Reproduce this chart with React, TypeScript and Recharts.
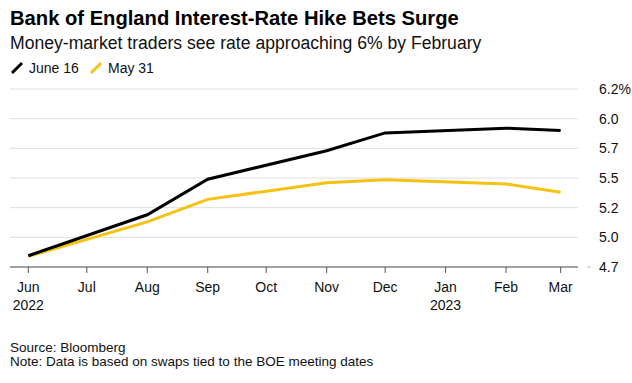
import React from "react";
import { LineChart, Line, XAxis, YAxis, CartesianGrid } from "recharts";

// Days since 1 Jun 2022 for BOE meeting months
const pointDays = [0, 61, 92, 153, 183, 245, 273];
const june16 = [4.845, 5.19, 5.49, 5.73, 5.88, 5.92, 5.9];
const may31 = [4.84, 5.13, 5.32, 5.46, 5.485, 5.45, 5.38];

const monthTickDays = [0, 30, 61, 92, 122, 153, 183, 214, 245, 273];
const monthLabels = ["Jun", "Jul", "Aug", "Sep", "Oct", "Nov", "Dec", "Jan", "Feb", "Mar"];
const yearLabels: Record<number, string> = { 0: "2022", 214: "2023" };

const yTicks = [4.75, 5, 5.25, 5.5, 5.75, 6, 6.25];
const yTickLabels = ["4.7", "5.0", "5.2", "5.5", "5.7", "6.0", "6.2%"];

const data = pointDays.map((d, i) => ({ d, june16: june16[i], may31: may31[i] }));

const FONT = "'Liberation Sans', Arial, Helvetica, sans-serif";
const BLACK = "#000000";
const YELLOW = "#f5c211";

const XTick = (props: any) => {
  const { x, y, payload } = props;
  const idx = monthTickDays.indexOf(payload.value);
  const year = yearLabels[payload.value];
  return (
    <g>
      <line x1={x} x2={x} y1={y} y2={y + 6} stroke="#555" strokeWidth={1} />
      <text x={x} y={y + 25} textAnchor="middle" fontSize={14} fill="#111" fontFamily={FONT}>
        {monthLabels[idx]}
      </text>
      {year && (
        <text x={x} y={y + 43} textAnchor="middle" fontSize={14} fill="#111" fontFamily={FONT}>
          {year}
        </text>
      )}
    </g>
  );
};

const YTick = (props: any) => {
  const { x, y, payload } = props;
  const idx = yTicks.indexOf(payload.value);
  return (
    <g>
      {payload.value === 4.75 && (
        <line x1={x + 9} x2={x + 13} y1={y} y2={y} stroke="#bbb" strokeWidth={1} />
      )}
      <text x={x + 21} y={y + 5} textAnchor="start" fontSize={14} fill="#111" fontFamily={FONT}>
        {yTickLabels[idx]}
      </text>
    </g>
  );
};

export default function App() {
  return (
    <div style={{ position: "absolute", left: 0, top: 0, width: 632, height: 383, background: "#fff", overflow: "hidden" }}>
      <div style={{ position: "absolute", left: 0, top: 0 }}>
        <LineChart width={632} height={383} data={data} margin={{ top: 89, right: 0, bottom: 0, left: 10 }}>
          <CartesianGrid horizontal={true} vertical={false} stroke="#dedede" strokeWidth={1} />
          <XAxis
            dataKey="d"
            type="number"
            domain={[-9.4, 281.9]}
            ticks={monthTickDays}
            interval={0}
            height={116}
            tickSize={0}
            tickMargin={0}
            tickLine={false}
            axisLine={{ stroke: "#555", strokeWidth: 1 }}
            tick={<XTick />}
            allowDataOverflow
          />
          <YAxis
            orientation="right"
            type="number"
            domain={[4.75, 6.25]}
            ticks={yTicks}
            interval={0}
            width={54}
            tickSize={0}
            tickMargin={0}
            tickLine={false}
            axisLine={false}
            tick={<YTick />}
            allowDataOverflow
          />
          <Line type="linear" dataKey="may31" stroke={YELLOW} strokeWidth={3} dot={false} isAnimationActive={false} />
          <Line type="linear" dataKey="june16" stroke={BLACK} strokeWidth={3} dot={false} isAnimationActive={false} />
        </LineChart>
      </div>
      <svg width={632} height={383} style={{ position: "absolute", left: 0, top: 0, pointerEvents: "none" }}>
        <text x={10} y={25} fontSize={20.2} fontWeight="bold" fill="#000" fontFamily={FONT}>
          Bank of England Interest-Rate Hike Bets Surge
        </text>
        <text x={10} y={49} fontSize={17.6} fill="#111" fontFamily={FONT}>
          Money-market traders see rate approaching 6% by February
        </text>
        <line x1={12} y1={73} x2={22} y2={63} stroke={BLACK} strokeWidth={3} />
        <text x={29} y={73} fontSize={14} fill="#111" fontFamily={FONT}>
          June 16
        </text>
        <line x1={91} y1={73} x2={101} y2={63} stroke={YELLOW} strokeWidth={3} />
        <text x={108} y={73} fontSize={14} fill="#111" fontFamily={FONT}>
          May 31
        </text>
        <text x={10} y={352} fontSize={13.5} fill="#111" fontFamily={FONT}>
          Source: Bloomberg
        </text>
        <text x={10} y={366} fontSize={13.5} fill="#111" fontFamily={FONT}>
          Note: Data is based on swaps tied to the BOE meeting dates
        </text>
      </svg>
    </div>
  );
}
